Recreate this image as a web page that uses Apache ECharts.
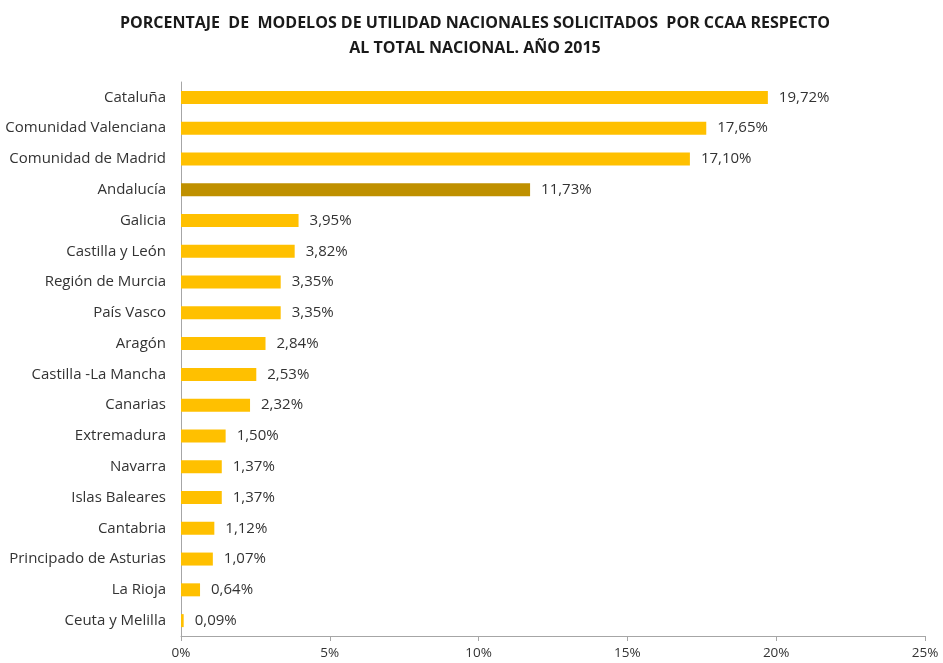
<!DOCTYPE html>
<html>
<head>
<meta charset="utf-8">
<script src="https://cdn.jsdelivr.net/npm/echarts@6/dist/echarts.min.js"></script>
<style>
  html, body { margin: 0; padding: 0; background: #fff; }
  #chart { width: 943px; height: 663px; }
</style>
</head>
<body>
<div id="chart"></div>
<script>
  // datos (orden de arriba a abajo)
  var regiones = ['Cataluña', 'Comunidad Valenciana', 'Comunidad de Madrid', 'Andalucía', 'Galicia',
    'Castilla y León', 'Región de Murcia', 'País Vasco', 'Aragón', 'Castilla -La Mancha', 'Canarias',
    'Extremadura', 'Navarra', 'Islas Baleares', 'Cantabria', 'Principado de Asturias', 'La Rioja',
    'Ceuta y Melilla'];
  var porcentajes = [19.72, 17.65, 17.10, 11.73, 3.95, 3.82, 3.35, 3.35, 2.84, 2.53, 2.32,
    1.50, 1.37, 1.37, 1.12, 1.07, 0.64, 0.09];
  var destacada = 'Andalucía';
  var ticksX = [0, 5, 10, 15, 20, 25];

  var fuente = '"Open Sans", "Noto Sans", sans-serif';

  var myChart = echarts.init(document.getElementById('chart'));

  var datos = porcentajes.map(function (v, i) {
    return {
      value: v,
      itemStyle: { color: regiones[i] === destacada ? '#BF9000' : '#FFC000' }
    };
  });

  var option = {
    animation: false,
    title: {
      text: 'PORCENTAJE  DE  MODELOS DE UTILIDAD NACIONALES SOLICITADOS  POR CCAA RESPECTO\nAL TOTAL NACIONAL. AÑO 2015',
      left: 470,
      textAlign: 'center',
      top: 6,
      textStyle: {
        fontFamily: fuente,
        fontSize: 16,
        fontWeight: 'bold',
        color: '#1a1a1a',
        lineHeight: 25
      }
    },
    grid: { left: 181, right: 18, top: 82, bottom: 27, containLabel: false },
    xAxis: {
      type: 'value',
      min: ticksX[0],
      max: ticksX[ticksX.length - 1],
      interval: 5,
      axisLine: { show: true, lineStyle: { color: '#a6a6a6' } },
      axisTick: { show: true, length: 5, lineStyle: { color: '#a6a6a6' } },
      splitLine: { show: false },
      axisLabel: {
        formatter: '{value}%',
        fontFamily: fuente,
        fontSize: 13.5,
        color: '#333',
        margin: 10
      }
    },
    yAxis: {
      type: 'category',
      data: regiones,
      inverse: true,
      axisLine: { show: true, lineStyle: { color: '#a6a6a6' } },
      axisTick: { show: false },
      axisLabel: {
        fontFamily: fuente,
        fontSize: 15,
        color: '#333',
        margin: 15
      }
    },
    series: [{
      type: 'bar',
      data: datos,
      barWidth: 13,
      label: {
        show: true,
        position: 'right',
        distance: 11,
        fontFamily: fuente,
        fontSize: 15,
        color: '#333',
        formatter: function (p) {
          return p.value.toFixed(2).replace('.', ',') + '%';
        }
      }
    }]
  };

  myChart.setOption(option);
  window.addEventListener('resize', function () { myChart.resize(); });
</script>
</body>
</html>
